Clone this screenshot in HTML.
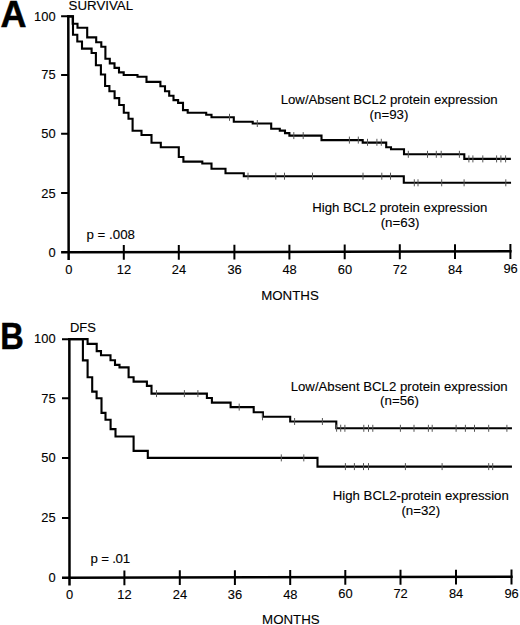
<!DOCTYPE html>
<html><head><meta charset="utf-8"><style>
html,body{margin:0;padding:0;background:#fff;}
body{width:520px;height:625px;overflow:hidden;}
svg{display:block;}
text{font-family:"Liberation Sans", sans-serif;fill:#000;stroke:#000;stroke-width:0.12px;}
text.b{stroke-width:0.5px;}
</style></head><body>
<svg width="520" height="625" viewBox="0 0 520 625">

<path d="M68.3,15.3 L68.65,259.9 M61.1,252.35 L511.60,251.3" stroke="#000" stroke-width="2.5" fill="none"/>
<path d=" M61.1,16.35 H68.3 M61.1,75.0 H68.3 M61.1,133.85 H68.3 M61.1,193.1 H68.3 M123.8,245.02 V259.82 M178.8,244.89 V259.69 M234.4,244.76 V259.56 M289.4,244.63 V259.43 M344.7,244.49 V259.29 M399.8,244.36 V259.16 M455.0,244.23 V259.03 M510.4,244.10 V258.90" stroke="#000" stroke-width="2.0" fill="none"/>
<path d="M69.35,338.1 L69.5,585.4 M62.0,577.75 L512.70,576.8" stroke="#000" stroke-width="2.5" fill="none"/>
<path d=" M62.0,339.15 H69.35 M62.0,398.35 H69.35 M62.0,458.05 H69.35 M62.0,518.05 H69.35 M124.4,570.43 V585.23 M179.8,570.31 V585.11 M234.9,570.19 V584.99 M290.2,570.08 V584.88 M345.3,569.96 V584.76 M400.5,569.84 V584.64 M456.0,569.72 V584.52 M511.5,569.60 V584.40" stroke="#000" stroke-width="2.0" fill="none"/>
<path d="M68.3,16.35 H72.7 V23.7 H77.5 V27.7 H87.2 V37.4 H96.2 V42.2 H101.3 V46.8 H105.4 V58.8 H109.8 V63.4 H114.5 V67.9 H119 V72.4 H123.7 V75.0 H137.5 V76.8 H146.5 V81.9 H160.4 V86.2 H165 V91.2 H169.2 V95.8 H173.5 V100.1 H178.1 V102.9 H183 V110.1 H187.7 V112.7 H206.2 V114.7 H211.5 V117.3 H233.8 V121.7 H252.7 V123.5 H271.2 V128.7 H279.8 V130.6 H285 V133.1 H289.4 V135.6 H321.5 V140.1 H362.7 V142.6 H386.2 V147.3 H391 V149.2 H404 V154.3 H464.3 V158.9 H509.8" stroke="#000" stroke-width="2.1" fill="none" stroke-linejoin="miter" stroke-linecap="square"/>
<path d="M68.3,16.35 H73 V34.8 H77.3 V41.5 H82 V48.6 H91.6 V53.0 H95.9 V65.2 H100.9 V74.5 H105.1 V86.0 H109.4 V91.2 H114.6 V98.1 H119.2 V105.0 H123.8 V112.7 H128.5 V118.8 H132.6 V130.8 H141.5 V135.0 H151.5 V142.7 H160.8 V147.3 H178.8 V157.0 H183.4 V161.6 H202.3 V163.5 H211.5 V168.8 H225.5 V173.3 H243.8 V176.2 H403.8 V182.8 H510" stroke="#000" stroke-width="2.1" fill="none" stroke-linejoin="miter" stroke-linecap="square"/>
<path d="M69.35,339.15 H87.6 V343.9 H96.7 V351.1 H101 V355.3 H110.5 V360.3 H115 V364.9 H119.5 V367.4 H128.6 V377.3 H133.6 V381.6 H146.9 V385.9 H151.5 V393.6 H206.9 V398.0 H211.9 V402.6 H230.6 V407.1 H253.7 V412.2 H262.9 V416.8 H290.2 V421.5 H336.3 V428.2 H510.9" stroke="#000" stroke-width="2.1" fill="none" stroke-linejoin="miter" stroke-linecap="square"/>
<path d="M69.35,339.15 H82.9 V360.4 H87.6 V377.2 H92.2 V391.6 H96.6 V398.3 H101.5 V412.9 H105.5 V419.7 H110.6 V429.1 H115.5 V436.5 H133.6 V450.9 H147.8 V457.9 H317.5 V466.6 H510.9" stroke="#000" stroke-width="2.1" fill="none" stroke-linejoin="miter" stroke-linecap="square"/>
<path d="M229.5,113.8 V120.8 M257.3,120.0 V127.0 M293.8,132.1 V139.1 M303.2,132.1 V139.1 M349.4,136.6 V143.6 M358.3,136.6 V143.6 M367.5,138.8 V145.8 M376.9,138.8 V145.8 M381.3,138.8 V145.8 M408.3,150.8 V157.8 M427.5,150.8 V157.8 M436.3,150.8 V157.8 M441.2,150.8 V157.8 M459.4,150.8 V157.8 M468.9,155.4 V162.4 M472.9,155.4 V162.4 M482.8,155.4 V162.4 M496.6,155.4 V162.4 M500.9,155.4 V162.4 M505.6,155.4 V162.4" stroke="#555" stroke-width="1" fill="none"/>
<path d="M248,172.7 V179.7 M275.8,172.7 V179.7 M284.5,172.7 V179.7 M312.5,172.7 V179.7 M363,172.7 V179.7 M381.8,172.7 V179.7 M390.5,172.7 V179.7 M414.3,179.3 V186.3 M418,179.3 V186.3 M441.7,179.3 V186.3 M464.1,179.3 V186.3 M505.8,179.3 V186.3" stroke="#555" stroke-width="1" fill="none"/>
<path d="M156.5,390.1 V397.1 M184.4,390.1 V397.1 M197.9,390.1 V397.1 M239.2,403.6 V410.6 M262.5,413.3 V420.3 M294.6,418.0 V425.0 M322.4,418.0 V425.0 M336.6,424.7 V431.7 M340.7,424.7 V431.7 M344.9,424.8 V431.8 M363.8,424.8 V431.8 M368.5,424.8 V431.8 M372.8,424.8 V431.8 M400.4,424.8 V431.8 M414,424.8 V431.8 M428.4,424.8 V431.8 M432.2,424.8 V431.8 M456.1,424.8 V431.8 M465.4,424.8 V431.8 M474.5,424.8 V431.8 M488.7,424.8 V431.8 M506.9,424.8 V431.8" stroke="#555" stroke-width="1" fill="none"/>
<path d="M281.3,454.4 V461.4 M303.8,454.4 V461.4 M345.4,463.1 V470.1 M354.4,463.1 V470.1 M363.5,463.1 V470.1 M368.5,463.1 V470.1 M405.4,463.1 V470.1 M442.1,463.1 V470.1 M488.7,463.1 V470.1 M492.7,463.1 V470.1" stroke="#555" stroke-width="1" fill="none"/>
<text x="0.5" y="26.7" font-size="36" text-anchor="start" font-weight="bold" class="b">A</text>
<text x="0.2" y="348.7" font-size="36" text-anchor="start" font-weight="bold" class="b" textLength="23.5" lengthAdjust="spacingAndGlyphs">B</text>
<text x="68.6" y="10.0" font-size="13.3" text-anchor="start" font-weight="normal" >SURVIVAL</text>
<text x="69.9" y="332.4" font-size="13.0" text-anchor="start" font-weight="normal" >DFS</text>
<text x="55.6" y="20.6" font-size="12.9" text-anchor="end" font-weight="normal" >100</text>
<text x="55.6" y="79.2" font-size="12.9" text-anchor="end" font-weight="normal" >75</text>
<text x="55.6" y="138.4" font-size="12.9" text-anchor="end" font-weight="normal" >50</text>
<text x="55.6" y="197.7" font-size="12.9" text-anchor="end" font-weight="normal" >25</text>
<text x="55.6" y="256.75" font-size="12.9" text-anchor="end" font-weight="normal" >0</text>
<text x="55.6" y="343.35" font-size="12.9" text-anchor="end" font-weight="normal" >100</text>
<text x="55.6" y="402.55" font-size="12.9" text-anchor="end" font-weight="normal" >75</text>
<text x="55.6" y="462.25" font-size="12.9" text-anchor="end" font-weight="normal" >50</text>
<text x="55.6" y="522.25" font-size="12.9" text-anchor="end" font-weight="normal" >25</text>
<text x="55.6" y="581.95" font-size="12.9" text-anchor="end" font-weight="normal" >0</text>
<text x="68.85" y="274.4" font-size="12.9" text-anchor="middle" font-weight="normal" >0</text>
<text x="69.55" y="599.2" font-size="12.9" text-anchor="middle" font-weight="normal" >0</text>
<text x="124.0" y="274.28" font-size="12.9" text-anchor="middle" font-weight="normal" >12</text>
<text x="124.5" y="599.03" font-size="12.9" text-anchor="middle" font-weight="normal" >12</text>
<text x="179.0" y="274.16" font-size="12.9" text-anchor="middle" font-weight="normal" >24</text>
<text x="179.9" y="598.86" font-size="12.9" text-anchor="middle" font-weight="normal" >24</text>
<text x="234.6" y="274.04" font-size="12.9" text-anchor="middle" font-weight="normal" >36</text>
<text x="235.0" y="598.69" font-size="12.9" text-anchor="middle" font-weight="normal" >36</text>
<text x="289.6" y="273.92" font-size="12.9" text-anchor="middle" font-weight="normal" >48</text>
<text x="290.3" y="598.52" font-size="12.9" text-anchor="middle" font-weight="normal" >48</text>
<text x="344.9" y="273.8" font-size="12.9" text-anchor="middle" font-weight="normal" >60</text>
<text x="345.4" y="598.35" font-size="12.9" text-anchor="middle" font-weight="normal" >60</text>
<text x="400.0" y="273.68" font-size="12.9" text-anchor="middle" font-weight="normal" >72</text>
<text x="400.6" y="598.18" font-size="12.9" text-anchor="middle" font-weight="normal" >72</text>
<text x="455.2" y="273.56" font-size="12.9" text-anchor="middle" font-weight="normal" >84</text>
<text x="456.1" y="598.01" font-size="12.9" text-anchor="middle" font-weight="normal" >84</text>
<text x="510.6" y="273.44" font-size="12.9" text-anchor="middle" font-weight="normal" >96</text>
<text x="511.6" y="597.84" font-size="12.9" text-anchor="middle" font-weight="normal" >96</text>
<text x="389.2" y="104.3" font-size="13.2" text-anchor="middle" font-weight="normal" >Low/Absent BCL2 protein expression</text>
<text x="389.0" y="118.95" font-size="13.3" text-anchor="middle" font-weight="normal" >(n=93)</text>
<text x="399.8" y="211.5" font-size="13.2" text-anchor="middle" font-weight="normal" >High BCL2 protein expression</text>
<text x="400.1" y="226.8" font-size="13.3" text-anchor="middle" font-weight="normal" >(n=63)</text>
<text x="399.2" y="391.3" font-size="13.2" text-anchor="middle" font-weight="normal" >Low/Absent BCL2 protein expression</text>
<text x="399.5" y="405.4" font-size="13.3" text-anchor="middle" font-weight="normal" >(n=56)</text>
<text x="420.8" y="500.2" font-size="13.2" text-anchor="middle" font-weight="normal" >High BCL2-protein expression</text>
<text x="420.8" y="515.3" font-size="13.3" text-anchor="middle" font-weight="normal" >(n=32)</text>
<text x="86.5" y="238.5" font-size="13.3" text-anchor="start" font-weight="normal" xml:space="preserve">p = .008</text>
<text x="90.6" y="563.2" font-size="13.3" text-anchor="start" font-weight="normal" xml:space="preserve" letter-spacing="-0.25">p = .01</text>
<text x="290.0" y="299.5" font-size="13.3" text-anchor="middle" font-weight="normal" >MONTHS</text>
<text x="290.9" y="624.1" font-size="13.3" text-anchor="middle" font-weight="normal" >MONTHS</text>
</svg>
</body></html>
